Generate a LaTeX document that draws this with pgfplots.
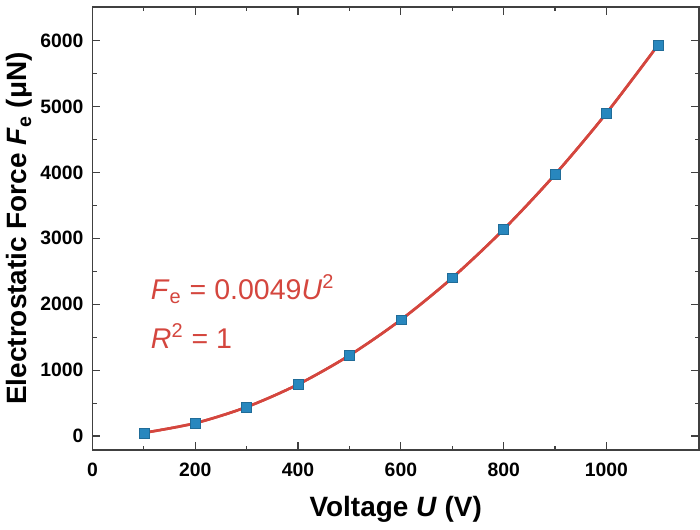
\documentclass[border=0pt]{standalone}
\usepackage{pgfplots}
\pgfplotsset{compat=1.18}
\usepackage{fontspec}
\setmainfont{Liberation Sans}
\definecolor{fitred}{RGB}{212,70,62}
\definecolor{ptblue}{RGB}{40,135,190}
\begin{document}
\begin{tikzpicture}
\begin{axis}[
    width=304pt, height=222pt, scale only axis,
    xmin=0, xmax=1180, ymin=-210, ymax=6510,
    xtick={0,200,...,1000}, ytick={0,1000,...,6000},
    minor x tick num=1, minor y tick num=1,
    tick align=inside, major tick length=4pt, minor tick length=2.2pt,
    tick style={black!75, line width=0.6pt},
    axis line style={black!75, line width=0.7pt},
    /pgf/number format/assume math mode=true,
    /pgf/number format/1000 sep={},
    ticklabel style={font=\fontsize{9.7}{11}\selectfont\bfseries},
    xticklabel style={yshift=-3pt},
    yticklabel style={xshift=-1pt},
    xlabel={\textbf{Voltage \textit{U} (V)}},
    ylabel={\textbf{Electrostatic Force \textit{F}\textsubscript{e} (μN)}},
    label style={font=\fontsize{14}{16}\selectfont},
    xlabel shift=3pt,
    ylabel shift=-3pt,
    clip=false,
]
\addplot[fitred, line width=1.3pt, smooth, tension=0.5] coordinates {
(100,49) (200,196) (300,441) (400,784) (500,1225) (600,1764)
(700,2401) (800,3136) (900,3969) (1000,4900) (1100,5929)};
\addplot[only marks, mark=square*, mark size=2.5pt, mark options={fill=ptblue, draw=ptblue!80!black, line width=0.3pt}] coordinates {
(100,49) (200,196) (300,441) (400,784) (500,1225) (600,1764)
(700,2401) (800,3136) (900,3969) (1000,4900) (1100,5929)};
\addplot[fitred, line width=1.3pt, smooth, tension=0.5, forget plot] coordinates {
(100,49) (200,196) (300,441) (400,784) (500,1225) (600,1764)
(700,2401) (800,3136) (900,3969) (1000,4900) (1100,5929)};
\node[anchor=west, text=fitred, font=\fontsize{14.3}{16}\selectfont] at (axis cs:100,2230) {\textit{F}\textsubscript{e} = 0.0049\textit{U}\textsuperscript{2}};
\node[anchor=west, text=fitred, font=\fontsize{14.3}{16}\selectfont] at (axis cs:100,1520) {\textit{R}\textsuperscript{2} = 1};
\end{axis}
\path ([yshift=3.5pt]current axis.north east) ++(0.5pt,0);
\path ([yshift=-40pt]current axis.south west);
\end{tikzpicture}
\end{document}
